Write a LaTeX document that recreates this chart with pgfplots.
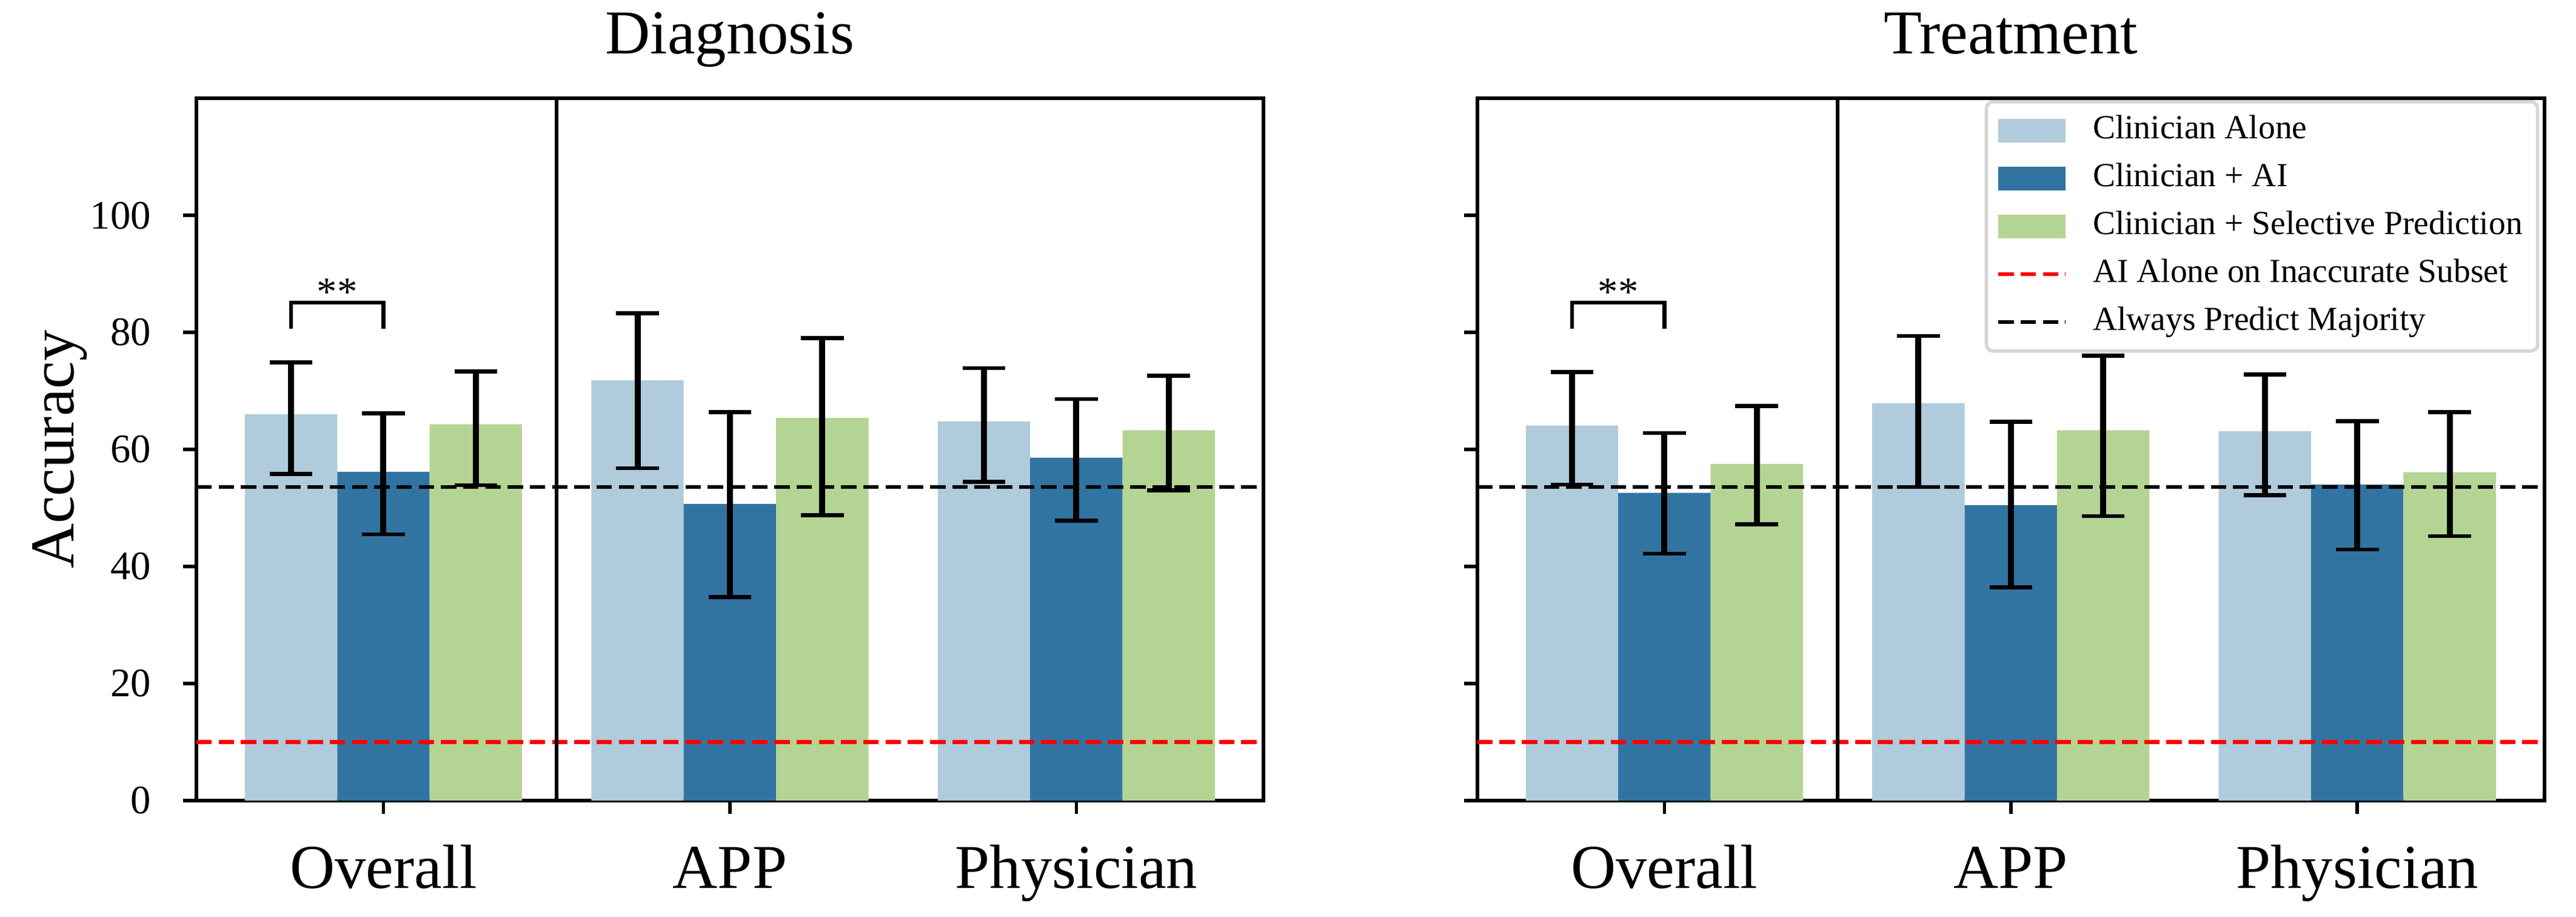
\documentclass[border=0pt]{standalone}
\usepackage{fontspec}
\setmainfont{Liberation Serif}
\usepackage{pgfplots}
\pgfplotsset{compat=1.18}

\definecolor{cAlone}{HTML}{AFCBDC}
\definecolor{cAI}{HTML}{3274A1}
\definecolor{cSel}{HTML}{B4D494}

\pgfplotsset{
  panel/.style={
    scale only axis, width=316.8pt, height=208.4pt,
    xmin=-0.54, xmax=2.54, ymin=0, ymax=120,
    enlargelimits=false,
    xtick={0,1,2}, xticklabels={Overall,APP,Physician},
    ytick={0,20,40,60,80,100},
    tick align=outside, major tick length=3.9pt,
    xtick pos=left, ytick pos=left,
    tick style={black, line width=1pt},
    axis line style={line width=1pt},
    /pgf/number format/assume math mode=true,
    yticklabel style={font=\fontsize{12}{14}\selectfont, anchor=east, inner sep=0pt, xshift=-9.4pt},
    xticklabel style={font=\fontsize{18.5}{21}\selectfont, anchor=base, yshift=-22.1pt},
    title style={font=\fontsize{18.5}{21}\selectfont, at={(axis description cs:0.5,1.0345)}, anchor=base},
    bar width=0.26667,
  },
  bars/.style={ybar, bar shift=0pt, draw=none, fill=#1,
    error bars/y dir=both, error bars/y explicit,
    error bars/error bar style={black, line width=1.8pt},
    error bars/error mark options={black, line width=1.2pt, mark size=6.35pt, rotate=90}},
  dashline/.style={#1, line width=1.1pt, dash pattern=on 4.6pt off 2pt},
}

\begin{document}
\begin{tikzpicture}
\path[use as bounding box] (-58.3pt,-34.4pt) rectangle (706.5pt,237.6pt);

% Diagnosis
\begin{axis}[panel, title={Diagnosis},
  ylabel={Accuracy},
  ylabel style={font=\fontsize{18.5}{21}\selectfont, at={(axis description cs:-0.1149,0.5)}, anchor=base}]
\addplot[bars=cAlone] coordinates {
  (-0.26667,66.0) += (0,8.9) -= (0,10.2)
  (0.73333,71.8) += (0,11.5) -= (0,15.0)
  (1.73333,64.8) += (0,9.1) -= (0,10.3)};
\addplot[bars=cAI] coordinates {
  (0,56.2) += (0,10.0) -= (0,10.7)
  (1,50.7) += (0,15.7) -= (0,15.9)
  (2,58.6) += (0,10.0) -= (0,10.8)};
\addplot[bars=cSel] coordinates {
  (0.26667,64.3) += (0,9.0) -= (0,10.4)
  (1.26667,65.4) += (0,13.6) -= (0,16.6)
  (2.26667,63.3) += (0,9.3) -= (0,10.3)};
\addplot[dashline=red] coordinates {(-0.54,10) (2.54,10)};
\addplot[dashline=black] coordinates {(-0.54,53.6) (2.54,53.6)};
\addplot[black, line width=1pt] coordinates {(0.5,0) (0.5,120)};
\addplot[black, line width=1.2pt] coordinates {(-0.26667,80.6) (-0.26667,85.1) (0,85.1) (0,80.6)};
\node[font=\fontsize{12}{14}\selectfont, anchor=base] at (axis cs:-0.13333,84.6) {**};
\end{axis}

% Treatment
\begin{axis}[panel, at={(380.3pt,0pt)}, title={Treatment}, yticklabels={},
  legend style={at={(rel axis cs:1,1)}, anchor=north east, xshift=-1.5pt, yshift=-0.5pt,
    draw=black!16, line width=1pt, rounded corners=2pt, fill=white,
    font=\fontsize{10}{12}\selectfont, cells={anchor=west},
    inner xsep=3pt, inner ysep=2.5pt, row sep=2pt, column sep=6pt,
    nodes={inner sep=1.5pt, text height=7pt, text depth=2.2pt}}]
\addplot[bars=cAlone, legend image code/.code={\fill[cAlone, sharp corners] (0pt,-3.5pt) rectangle (20pt,3.5pt);}] coordinates {
  (-0.26667,64.1) += (0,9.1) -= (0,10.1)
  (0.73333,67.9) += (0,11.5) -= (0,14.3)
  (1.73333,63.1) += (0,9.7) -= (0,10.9)};
\addlegendentry{Clinician Alone}
\addplot[bars=cAI, legend image code/.code={\fill[cAI, sharp corners] (0pt,-3.5pt) rectangle (20pt,3.5pt);}] coordinates {
  (0,52.6) += (0,10.2) -= (0,10.4)
  (1,50.5) += (0,14.2) -= (0,14.1)
  (2,54.0) += (0,10.8) -= (0,11.1)};
\addlegendentry{Clinician + AI}
\addplot[bars=cSel, legend image code/.code={\fill[cSel, sharp corners] (0pt,-3.5pt) rectangle (20pt,3.5pt);}] coordinates {
  (0.26667,57.5) += (0,9.9) -= (0,10.3)
  (1.26667,63.3) += (0,12.7) -= (0,14.7)
  (2.26667,56.1) += (0,10.3) -= (0,10.9)};
\addlegendentry{Clinician + Selective Prediction}
\addplot[dashline=red,
  legend image code/.code={\draw[red, line width=1.1pt, sharp corners, dash pattern=on 4.6pt off 2pt] (0pt,0pt) -- (20pt,0pt);}]
  coordinates {(-0.54,10) (2.54,10)};
\addlegendentry{AI Alone on Inaccurate Subset}
\addplot[dashline=black,
  legend image code/.code={\draw[black, line width=1.1pt, sharp corners, dash pattern=on 4.6pt off 2pt] (0pt,0pt) -- (20pt,0pt);}]
  coordinates {(-0.54,53.6) (2.54,53.6)};
\addlegendentry{Always Predict Majority}
\addplot[black, line width=1pt, forget plot] coordinates {(0.5,0) (0.5,120)};
\addplot[black, line width=1.2pt, forget plot] coordinates {(-0.26667,80.6) (-0.26667,85.1) (0,85.1) (0,80.6)};
\node[font=\fontsize{12}{14}\selectfont, anchor=base] at (axis cs:-0.13333,84.6) {**};
\end{axis}
\end{tikzpicture}
\end{document}
